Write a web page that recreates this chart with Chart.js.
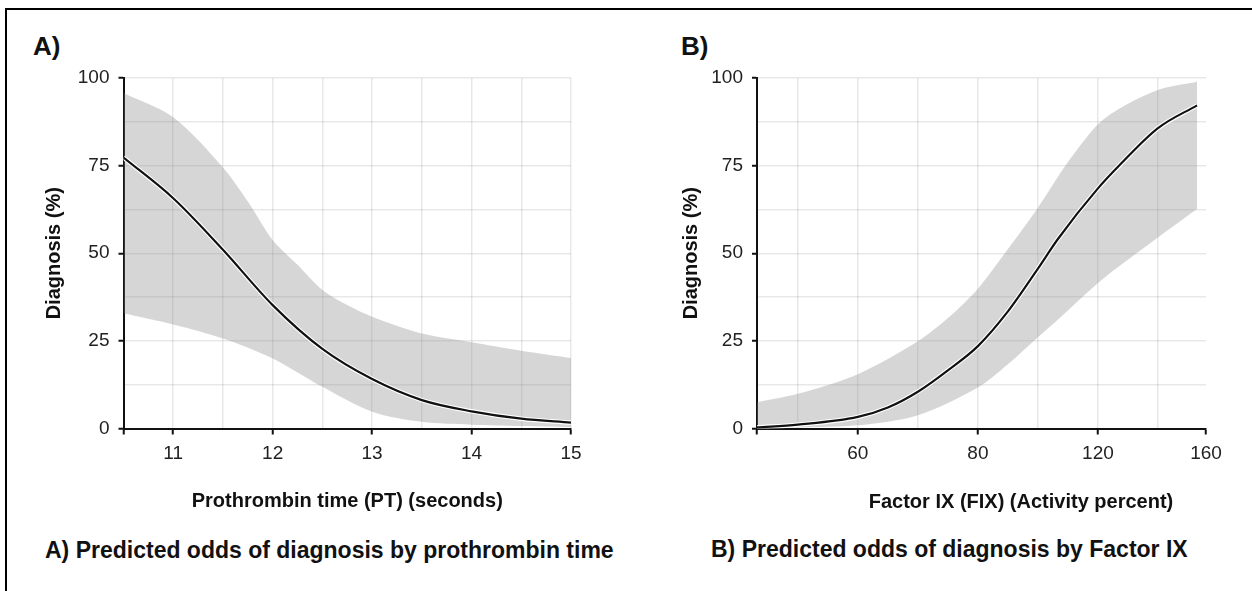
<!DOCTYPE html>
<html>
<head>
<meta charset="utf-8">
<script src="https://cdn.jsdelivr.net/npm/chart.js@4.4.0/dist/chart.umd.min.js"></script>
<style>
  html, body { margin: 0; padding: 0; background: #fff; }
  body { width: 1252px; height: 591px; position: relative; overflow: hidden;
         font-family: "Liberation Sans", Arial, sans-serif; color: #111; }
  .frame-top { position: absolute; left: 5px; top: 8px; width: 1247px; height: 2px; background: #000; }
  .frame-left { position: absolute; left: 5px; top: 8px; width: 2px; height: 583px; background: #000; }
  .wrap { position: absolute; top: 0; height: 520px; }
  #wa { left: 0; width: 620px; }
  #wb { left: 630px; width: 622px; }
  .lbl { position: absolute; font-weight: bold; font-size: 26px; line-height: 26px; white-space: nowrap; }
  .cap { position: absolute; font-weight: bold; font-size: 23px; line-height: 23px; white-space: nowrap; }
  .xt { position: absolute; font-weight: bold; font-size: 20px; line-height: 24px; white-space: nowrap; transform: translateX(-50%); }
</style>
</head>
<body>
<div class="frame-top"></div>
<div class="frame-left"></div>

<div class="lbl" style="left:33px;top:33px;">A)</div>
<div class="lbl" style="left:681px;top:33px;">B)</div>

<div class="wrap" id="wa"><canvas id="ca" width="620" height="520"></canvas></div>
<div class="wrap" id="wb"><canvas id="cb" width="622" height="520"></canvas></div>

<div class="xt" style="left:1021px;top:489px;">Factor IX (FIX) (Activity percent)</div>

<div class="cap" style="left:45px;top:539px;">A) Predicted odds of diagnosis by prothrombin time</div>
<div class="cap" style="left:711px;top:538px;">B) Predicted odds of diagnosis by Factor IX</div>

<script>
// ---------- Panel A data: Prothrombin time (seconds) ----------
const aLineX  = [10.5, 11, 11.5, 12, 12.5, 13, 13.5, 14, 14.5, 15];
const aLineY  = [77.3, 65.7, 51.0, 35.2, 22.7, 14.1, 8.1, 4.9, 2.8, 1.7];
const aUpperX = [10.5, 11, 11.5, 11.75, 12, 12.25, 12.5, 12.75, 13, 13.5, 14, 14.5, 15];
const aUpperY = [95.7, 88.8, 74.5, 64.8, 53.8, 46.7, 39.5, 35.2, 31.9, 27.1, 24.6, 22.2, 20.1];
const aLowerX = [10.5, 11, 11.5, 12, 12.5, 13, 13.5, 14, 14.5, 15];
const aLowerY = [32.9, 29.7, 25.7, 20.0, 11.9, 4.8, 1.9, 1.1, 0.7, 0.4];
const aGridX  = [10.5, 11, 11.5, 12, 12.5, 13, 13.5, 14, 14.5, 15];
const aTickX  = [11, 12, 13, 14, 15];
const aTickLabels = ['11', '12', '13', '14', '15'];
const aMarkX  = [10.5, 11, 12, 13, 14, 15];

// ---------- Panel B data: Factor IX (activity percent), axis in plotted units ----------
const bLineX  = [43.2, 50, 60, 65, 70, 75, 80, 85, 90, 93.3, 100, 103.7, 110, 116.5];
const bLineY  = [0.3, 1.1, 3.3, 6.0, 10.5, 16.6, 23.5, 33.4, 45.6, 54.0, 68.5, 75.3, 85.7, 92.2];
const bUpperX = [43.2, 50, 60, 70, 75, 80, 85, 90, 95, 100, 103.7, 110, 116.5];
const bUpperY = [7.5, 9.9, 15.5, 24.9, 31.5, 39.9, 51.2, 63.0, 76.0, 86.8, 91.4, 96.6, 98.9];
const bLowerX = [43.2, 50, 60, 70, 80, 85, 90, 93.3, 100, 103.7, 110, 116.5];
const bLowerY = [0.2, 0.3, 0.9, 3.8, 11.7, 18.3, 26.0, 31.0, 41.5, 46.5, 54.5, 62.6];
const bGridX  = [50, 60, 70, 80, 90, 100, 110];
const bTickX  = [60, 80, 100, 118];
const bTickLabels = ['60', '80', '120', '160'];
const bMarkX  = [43.2, 60, 80, 100, 118];

// ---------- shared y axis ----------
const yGrid = [0, 12.5, 25, 37.5, 50, 62.5, 75, 87.5, 100];
const yTickVals = [0, 25, 50, 75, 100];
const yTickLabels = ['0', '25', '50', '75', '100'];

const FONT = '"Liberation Sans", Arial, sans-serif';
const GRID = 'rgba(0,0,0,0.09)';
const BAND = 'rgba(130,130,130,0.33)';
const AXIS = '#111';

function zip(xs, ys) { return xs.map((x, i) => ({ x: x, y: ys[i] })); }

function makeChart(id, cfg) {
  const allX = Array.from(new Set([cfg.min].concat(cfg.gridX, cfg.tickX, cfg.markX))).sort((a, b) => a - b);
  return new Chart(document.getElementById(id), {
    type: 'line',
    data: {
      datasets: [
        { data: zip(cfg.lineX, cfg.lineY), borderColor: '#111', borderWidth: 2.2, pointRadius: 0,
          cubicInterpolationMode: 'monotone', fill: false },
        { data: zip(cfg.lineX, cfg.lineY), borderColor: '#fff', borderWidth: 4.5, pointRadius: 0,
          cubicInterpolationMode: 'monotone', fill: false },
        { data: zip(cfg.upperX, cfg.upperY), borderWidth: 0, borderColor: 'transparent', pointRadius: 0,
          backgroundColor: BAND, tension: 0.3, fill: '+1' },
        { data: zip(cfg.lowerX, cfg.lowerY), borderWidth: 0, borderColor: 'transparent', pointRadius: 0,
          backgroundColor: BAND, tension: 0.3, fill: false }
      ]
    },
    options: {
      responsive: false,
      animation: false,
      devicePixelRatio: 1,
      layout: { padding: { top: 78, left: 0, right: cfg.padRight, bottom: 0 } },
      plugins: { legend: { display: false }, tooltip: { enabled: false } },
      scales: {
        x: {
          type: 'linear', min: cfg.min, max: cfg.max,
          afterBuildTicks: s => { s.ticks = allX.map(v => ({ value: v })); },
          afterFit: s => { s.height = 91.5; },
          ticks: {
            autoSkip: false, maxRotation: 0, padding: 8, color: '#222',
            font: { family: FONT, size: 19 },
            callback: v => { const i = cfg.tickX.indexOf(v); return i >= 0 ? cfg.tickLabels[i] : ''; }
          },
          grid: {
            lineWidth: 1.5, tickLength: 6, tickWidth: 2,
            color: c => cfg.gridX.indexOf(c.tick.value) >= 0 ? GRID : 'transparent',
            tickColor: c => cfg.markX.indexOf(c.tick.value) >= 0 ? AXIS : 'transparent'
          },
          border: { color: AXIS, width: 2 },
          title: cfg.xTitle ? {
            display: true, text: cfg.xTitle, color: '#111',
            font: { family: FONT, size: 20, weight: 'bold' }, padding: { top: 0, bottom: 7 }
          } : { display: false }
        },
        y: {
          type: 'linear', min: 0, max: 100,
          afterBuildTicks: s => { s.ticks = yGrid.map(v => ({ value: v })); },
          afterFit: s => { s.width = cfg.yWidth; },
          ticks: {
            autoSkip: false, padding: 9, color: '#222',
            font: { family: FONT, size: 19 },
            callback: v => { const i = yTickVals.indexOf(v); return i >= 0 ? yTickLabels[i] : ''; }
          },
          grid: {
            lineWidth: 1.5, tickLength: 5, tickWidth: 2,
            color: c => c.tick.value === 0 ? 'transparent' : GRID,
            tickColor: c => yTickVals.indexOf(c.tick.value) >= 0 ? AXIS : 'transparent'
          },
          border: { color: AXIS, width: 2 },
          title: {
            display: true, text: 'Diagnosis (%)', color: '#111',
            font: { family: FONT, size: 20, weight: 'bold' }, padding: { top: cfg.yTitlePad, bottom: 0 }
          }
        }
      }
    }
  });
}

makeChart('ca', {
  lineX: aLineX, lineY: aLineY, upperX: aUpperX, upperY: aUpperY, lowerX: aLowerX, lowerY: aLowerY,
  gridX: aGridX, tickX: aTickX, tickLabels: aTickLabels, markX: aMarkX,
  min: 10.5, max: 15, padRight: 49, yWidth: 123.5, yTitlePad: 42,
  xTitle: 'Prothrombin time (PT) (seconds)'
});

makeChart('cb', {
  lineX: bLineX, lineY: bLineY, upperX: bUpperX, upperY: bUpperY, lowerX: bLowerX, lowerY: bLowerY,
  gridX: bGridX, tickX: bTickX, tickLabels: bTickLabels, markX: bMarkX,
  min: 43.2, max: 118, padRight: 46, yWidth: 127, yTitlePad: 49,
  xTitle: null
});
</script>
</body>
</html>
